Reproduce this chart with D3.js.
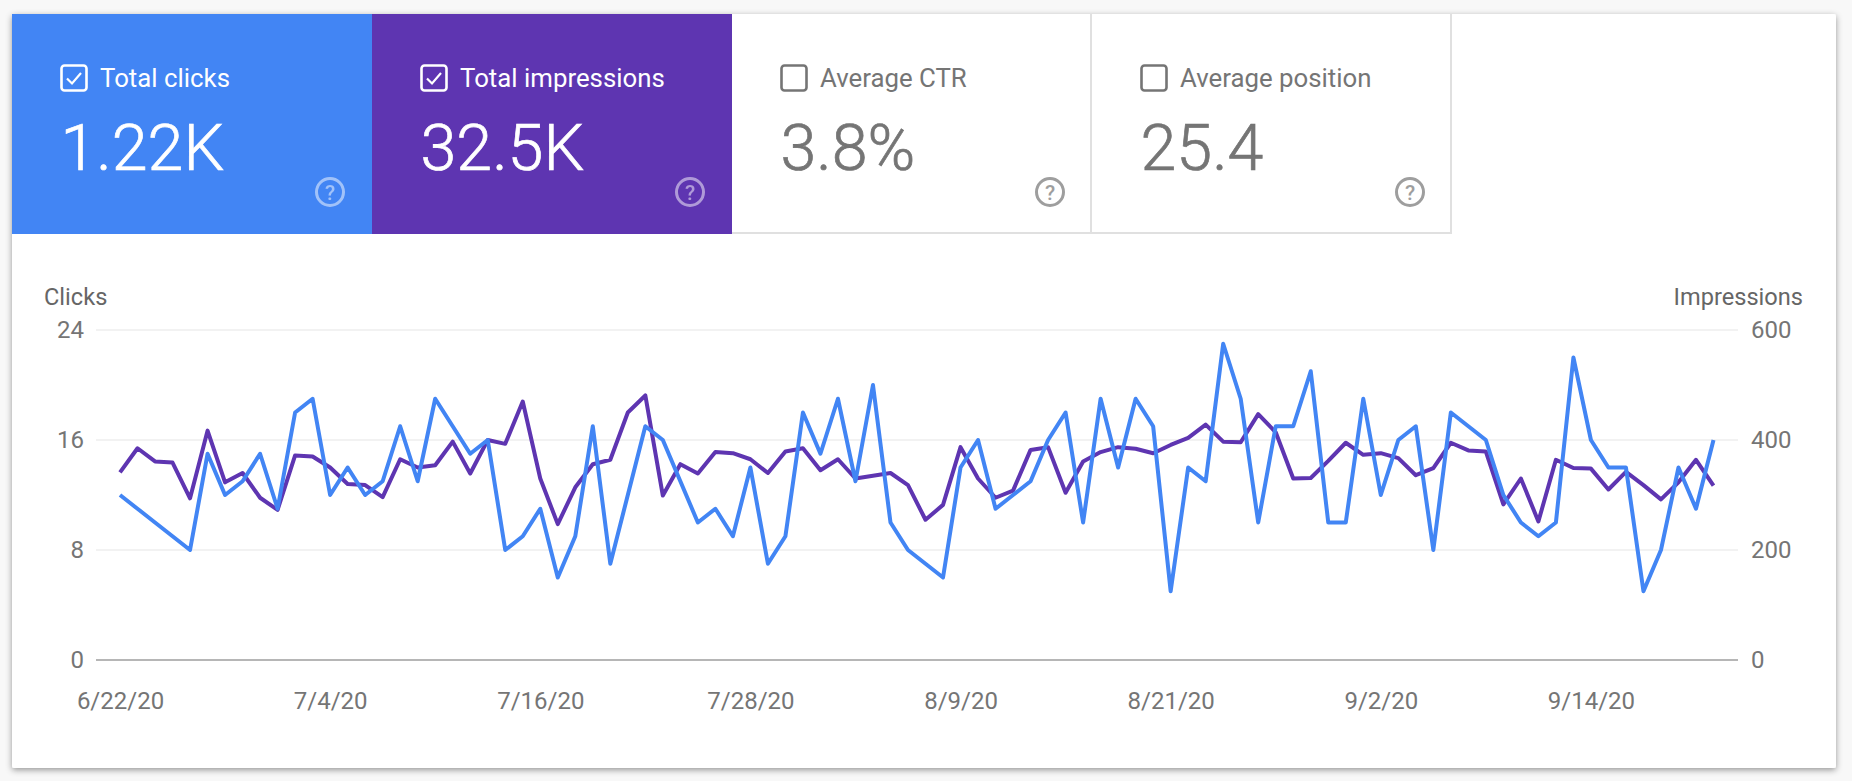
<!DOCTYPE html>
<html>
<head>
<meta charset="utf-8">
<script src="https://cdnjs.cloudflare.com/ajax/libs/d3/7.8.5/d3.min.js"></script>
<style>
    html, body { margin: 0; padding: 0; background: #f8f8f8; overflow: hidden; }
    text { font-family: Roboto, sans-serif; }
</style>
</head>
<body>
<div class="graph-container"></div>
<script>
const width = 1852,
    height = 781;

// Summary tabs
const tabLabels = ["Total clicks", "Total impressions", "Average CTR", "Average position"];
const tabValues = ["1.22K", "32.5K", "3.8%", "25.4"];
const tabFills = ["#4285f4", "#5e35b1", "#ffffff", "#ffffff"];
const tabChecked = [true, true, false, false];

// Daily values
const clicks = [
    12, 11, 10, 9, 8, 15, 12, 13, 15, 11, 18, 19, 12, 14, 12, 13, 17, 13, 19, 17, 15, 16, 8,
    9, 11, 6, 9, 17, 7, 12, 17, 16, 13, 10, 11, 9, 14, 7, 9, 18, 15, 19, 13, 20, 10, 8,
    7, 6, 14, 16, 11, 12, 13, 16, 18, 10, 19, 14, 19, 17, 5, 14, 13, 23, 19, 10, 17, 17,
    21, 10, 10, 19, 12, 16, 17, 8, 18, 17, 16, 12, 10, 9, 10, 22, 16, 14, 14, 5, 8, 14, 11, 16
];
const impressions = [
    341, 385, 361, 359, 294, 417, 323, 340, 295, 273, 372, 370, 350, 320, 318, 296, 365, 350, 354, 397, 339, 400, 393,
    470, 330, 247, 314, 356, 364, 450, 481, 299, 356, 339, 378, 376, 365, 340, 379, 385, 345, 365, 330, 335, 340, 318,
    255, 282, 387, 330, 295, 308, 382, 387, 304, 361, 378, 387, 384, 376, 391, 404, 428, 397, 396, 447, 414, 330,
    331, 362, 395, 373, 376, 367, 336, 349, 395, 381, 379, 283, 330, 252, 364, 349, 348, 310, 342, 318, 292, 323, 364, 317
];

const clickTicks = [0, 8, 16, 24];
const impressionTicks = [0, 200, 400, 600];
const dateTicks = ["6/22/20", "7/4/20", "7/16/20", "7/28/20", "8/9/20", "8/21/20", "9/2/20", "9/14/20"];

const parseDate = d3.utcParse("%m/%d/%y");
const formatDate = d => `${d.getUTCMonth() + 1}/${d.getUTCDate()}/20`;
const startDate = parseDate("6/22/20");
const days = clicks.map((d, i) => d3.utcDay.offset(startDate, i));

const svg = d3.select(".graph-container")
    .append("svg")
    .attr("width", width)
    .attr("height", height)
    .attr("viewBox", `0 0 ${width} ${height}`);

const shadow = svg.append("defs").append("filter")
    .attr("id", "card-shadow")
    .attr("x", "-2%").attr("y", "-2%").attr("width", "104%").attr("height", "104%");
shadow.append("feDropShadow")
    .attr("dx", 0).attr("dy", 2).attr("stdDeviation", 3)
    .attr("flood-color", "#000").attr("flood-opacity", 0.4);

svg.append("rect")
    .attr("x", 12).attr("y", 14)
    .attr("width", 1824).attr("height", 754)
    .attr("rx", 2)
    .attr("fill", "white")
    .attr("filter", "url(#card-shadow)");

// Tabs
const tabX = d3.scaleLinear().domain([0, 1]).range([12, 372]);

const tabs = svg.selectAll("g.tab")
    .data(tabLabels)
    .join("g")
    .attr("class", "tab")
    .attr("transform", (d, i) => `translate(${tabX(i)}, 14)`);

tabs.append("rect")
    .attr("width", (d, i) => i == 3 ? 359 : 360)
    .attr("height", 220)
    .attr("fill", (d, i) => tabFills[i]);

// right and bottom border of the two unselected tabs
tabs.filter((d, i) => !tabChecked[i])
    .append("path")
    .attr("d", "M0,219H359V0")
    .attr("fill", "none")
    .attr("stroke", "#e0e0e0")
    .attr("stroke-width", 2);

const tabColor = i => tabChecked[i] ? "#ffffff" : "#757575";

tabs.append("rect")
    .attr("x", 49.5).attr("y", 51.5)
    .attr("width", 25).attr("height", 25)
    .attr("rx", 3)
    .attr("fill", "none")
    .attr("stroke", (d, i) => tabColor(i))
    .attr("stroke-width", 2.6);

tabs.filter((d, i) => tabChecked[i])
    .append("path")
    .attr("d", "M55,64.5l5,5l9,-10.5")
    .attr("fill", "none")
    .attr("stroke", "white")
    .attr("stroke-width", 2.2);

tabs.append("text")
    .text(d => d)
    .attr("x", 88)
    .attr("y", 73)
    .attr("font-size", 25.8)
    .attr("fill", (d, i) => tabColor(i));

tabs.append("text")
    .text((d, i) => tabValues[i])
    .attr("x", 48.5)
    .attr("y", 156)
    .attr("font-size", 64.6)
    .attr("font-weight", 300)
    .attr("stroke", (d, i) => tabColor(i))
    .attr("stroke-width", 0.7)
    .attr("fill", (d, i) => tabColor(i));

const help = tabs.append("g")
    .attr("transform", "translate(318, 178)")
    .attr("opacity", (d, i) => tabChecked[i] ? 0.5 : 1);

help.append("circle")
    .attr("r", 13.5)
    .attr("fill", "none")
    .attr("stroke", (d, i) => tabChecked[i] ? "white" : "#9e9e9e")
    .attr("stroke-width", 3);

help.append("text")
    .text("?")
    .attr("text-anchor", "middle")
    .attr("y", 7.5)
    .attr("font-size", 21)
    .attr("font-weight", 500)
    .attr("fill", (d, i) => tabChecked[i] ? "white" : "#9e9e9e");

// Chart
const x = d3.scaleUtc()
    .domain(d3.extent(days))
    .range([120, 1713.5]);

const yClicks = d3.scaleLinear()
    .domain([0, 24])
    .range([660, 330]);

const yImpressions = d3.scaleLinear()
    .domain([0, 600])
    .range([660, 330]);

const plotLeft = 96,
    plotRight = 1738;

svg.append("g")
    .selectAll("line")
    .data(clickTicks)
    .join("line")
    .attr("x1", plotLeft)
    .attr("x2", plotRight)
    .attr("y1", d => yClicks(d))
    .attr("y2", d => yClicks(d))
    .attr("stroke", d => d == 0 ? "#9e9e9e" : "#eeeeee")
    .attr("stroke-width", 1.6);

const styleAxis = g => {
    g.select(".domain").remove();
    g.selectAll(".tick line").remove();
    g.selectAll(".tick text")
        .attr("font-family", "Roboto, sans-serif")
        .attr("font-size", 24)
        .attr("fill", "#757575");
};

svg.append("g")
    .attr("transform", `translate(${plotLeft - 2}, 0)`)
    .call(d3.axisLeft(yClicks).tickValues(clickTicks).tickSize(0).tickPadding(10))
    .call(styleAxis);

svg.append("g")
    .attr("transform", `translate(${plotRight + 2}, 0)`)
    .call(d3.axisRight(yImpressions).tickValues(impressionTicks).tickSize(0).tickPadding(11))
    .call(styleAxis);

svg.append("g")
    .attr("transform", "translate(0, 660)")
    .call(d3.axisBottom(x).tickValues(dateTicks.map(parseDate)).tickFormat(formatDate).tickSize(0).tickPadding(32))
    .call(styleAxis);

svg.append("text")
    .text("Clicks")
    .attr("x", 44)
    .attr("y", 305)
    .attr("font-size", 23.6)
    .attr("fill", "#666666");

svg.append("text")
    .text("Impressions")
    .attr("x", 1803)
    .attr("y", 305)
    .attr("text-anchor", "end")
    .attr("font-size", 23.6)
    .attr("fill", "#666666");

const lineImpressions = d3.line()
    .x((d, i) => x(days[i]))
    .y(d => yImpressions(d));

const lineClicks = d3.line()
    .x((d, i) => x(days[i]))
    .y(d => yClicks(d));

svg.append("path")
    .attr("d", lineImpressions(impressions))
    .attr("fill", "none")
    .attr("stroke", "#5e35b1")
    .attr("stroke-width", 4)
    .attr("stroke-linejoin", "round");

svg.append("path")
    .attr("d", lineClicks(clicks))
    .attr("fill", "none")
    .attr("stroke", "#4285f4")
    .attr("stroke-width", 4)
    .attr("stroke-linejoin", "round");
</script>
</body>
</html>
